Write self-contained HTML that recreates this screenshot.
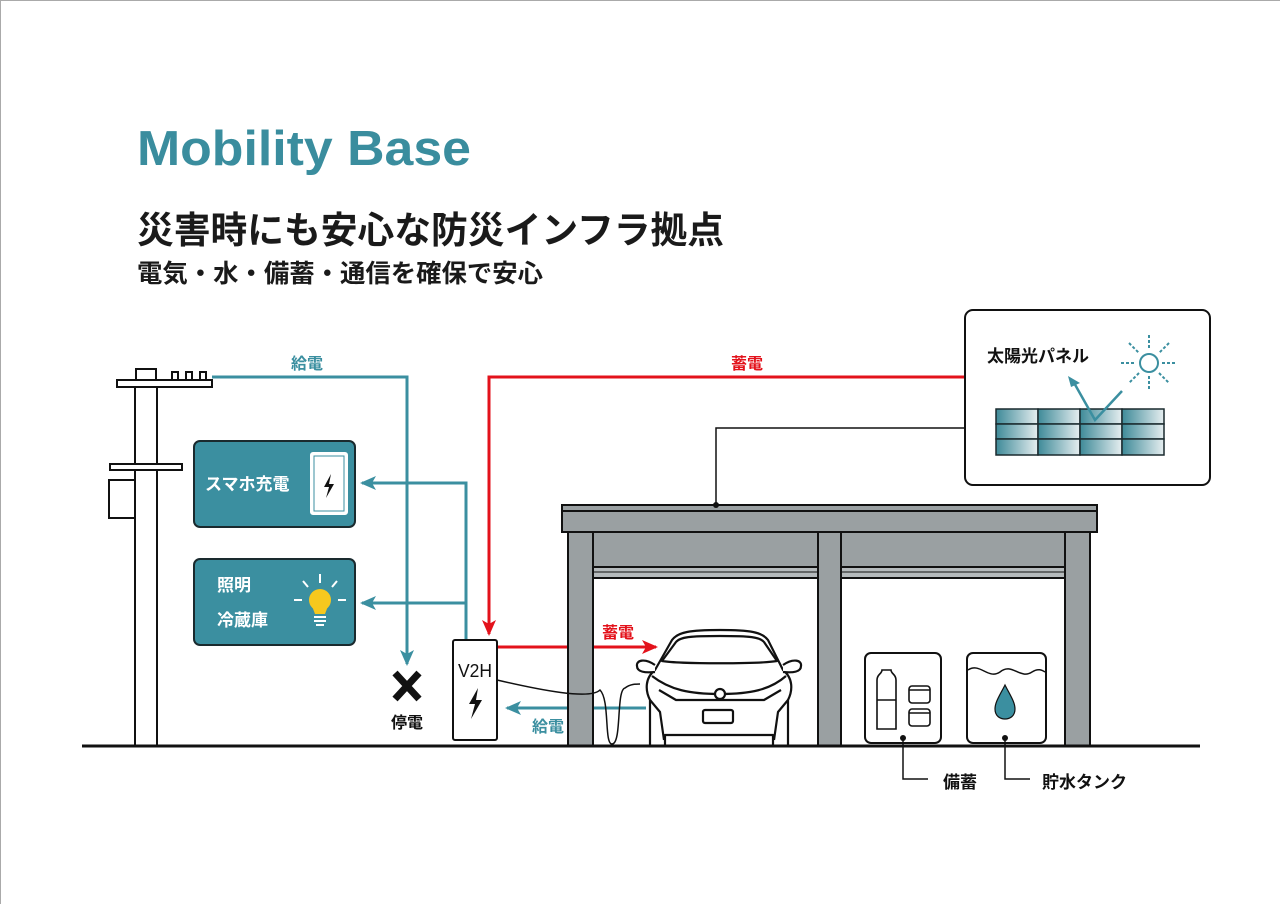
<!DOCTYPE html>
<html><head><meta charset="utf-8"><style>
html,body{margin:0;padding:0;background:#fff}
svg{display:block}
text{font-family:"Liberation Sans","Noto Sans CJK JP",sans-serif;font-weight:bold}
</style></head><body>
<svg width="1280" height="904" viewBox="0 0 1280 904" xmlns="http://www.w3.org/2000/svg">
<rect x="0.5" y="0.5" width="1290" height="910" fill="#fff" stroke="#aaa"/>
<defs>
<marker id="ar" markerWidth="16" markerHeight="14" refX="14" refY="7" orient="auto" markerUnits="userSpaceOnUse"><path d="M0,0 L16,7 L0,14 L4,7z" fill="#e3121b"/></marker>
<marker id="at2" markerWidth="16" markerHeight="14" refX="14" refY="7" orient="auto" markerUnits="userSpaceOnUse"><path d="M0,0 L16,7 L0,14 L4,7z" fill="#3b8fa0"/></marker>
<linearGradient id="pg" x1="0" x2="1"><stop offset="0" stop-color="#3e8a98"/><stop offset="1" stop-color="#e6eef0"/></linearGradient>
</defs>
<text x="137" y="165" font-size="49" fill="#3a8d9e" textLength="334" lengthAdjust="spacingAndGlyphs">Mobility Base</text>
<text x="137" y="243" font-size="37" fill="#1a1a1a" textLength="587" lengthAdjust="spacingAndGlyphs">災害時にも安心な防災インフラ拠点</text>
<text x="137" y="282" font-size="25" fill="#1a1a1a" textLength="406" lengthAdjust="spacingAndGlyphs">電気・水・備蓄・通信を確保で安心</text>

<g stroke="#111" stroke-width="2" fill="#fff">
<rect x="135" y="383" width="22" height="363"/>
<rect x="136" y="369" width="20" height="11"/>
<rect x="172" y="372" width="6" height="8"/><rect x="186" y="372" width="6" height="8"/><rect x="200" y="372" width="6" height="8"/>
<rect x="117" y="380" width="95" height="7"/>
<rect x="110" y="464" width="72" height="6"/>
<rect x="109" y="480" width="26" height="38"/>
</g>
<g fill="none" stroke="#3b8fa0" stroke-width="3">
<path d="M212,377 H407 V664" marker-end="url(#at2)"/>
<path d="M466,640 V483 H362" marker-end="url(#at2)"/>
<path d="M466,603 H362" marker-end="url(#at2)"/>
<path d="M646,708 H507" marker-end="url(#at2)"/>
</g>
<text x="307" y="369" font-size="16" fill="#3b8fa0" text-anchor="middle">給電</text>
<text x="548" y="732" font-size="16" fill="#3b8fa0" text-anchor="middle">給電</text>
<rect x="194" y="441" width="161" height="86" rx="6" fill="#3b8fa0" stroke="#1a2a2e" stroke-width="2"/>
<text x="205" y="490" font-size="17" fill="#fff">スマホ充電</text>
<rect x="311" y="453" width="36" height="61" rx="2" fill="#fff" stroke="#fff" stroke-width="2"/>
<rect x="314" y="456" width="30" height="55" fill="#fff" stroke="#3b8fa0" stroke-width="1"/>
<path d="M331,474 L324,487 L329,487 L326,498 L334,484 L329,484 Z" fill="#111"/>
<rect x="194" y="559" width="161" height="86" rx="6" fill="#3b8fa0" stroke="#1a2a2e" stroke-width="2"/>
<text x="217" y="591" font-size="17" fill="#fff">照明</text>
<text x="217" y="626" font-size="17" fill="#fff">冷蔵庫</text>
<g stroke="#fff" stroke-width="2"><line x1="320" y1="574" x2="320" y2="583"/><line x1="303" y1="581" x2="308" y2="587"/><line x1="337" y1="581" x2="332" y2="587"/><line x1="294" y1="600" x2="302" y2="600"/><line x1="338" y1="600" x2="346" y2="600"/></g>
<circle cx="320" cy="600" r="11" fill="#f6c81e"/>
<path d="M312,606 L328,606 L325,614 L315,614Z" fill="#f6c81e"/>
<g stroke="#fff" stroke-width="2"><line x1="314" y1="617" x2="326" y2="617"/><line x1="314" y1="621" x2="326" y2="621"/><line x1="316" y1="625" x2="324" y2="625"/></g>
<path d="M395,673 L419,699 M419,673 L395,699" stroke="#111" stroke-width="7"/>
<text x="407" y="728" font-size="16" fill="#111" text-anchor="middle">停電</text>
<g fill="none" stroke="#e3121b" stroke-width="3">
<path d="M965,377 H489 V634" marker-end="url(#ar)"/>
<path d="M497,647 H656" marker-end="url(#ar)"/>
</g>
<text x="747" y="369" font-size="16" fill="#e3121b" text-anchor="middle">蓄電</text>
<text x="618" y="638" font-size="16" fill="#e3121b" text-anchor="middle">蓄電</text>
<rect x="453" y="640" width="44" height="100" rx="2" fill="#fff" stroke="#111" stroke-width="2"/>
<text x="475" y="677" font-size="18" fill="#111" text-anchor="middle" style="font-weight:normal" textLength="34" lengthAdjust="spacingAndGlyphs">V2H</text>
<path d="M478,688 L469,704 L475,704 L471,719 L482,700 L476,700 Z" fill="#111"/>
<g stroke="#111" stroke-width="2" fill="#9aa0a2">
<rect x="593" y="532" width="472" height="35"/>
<rect x="593" y="567" width="472" height="11" fill="#b5babc"/>
<line x1="593" y1="572" x2="1065" y2="572" stroke-width="1"/>
<rect x="562" y="505" width="535" height="27"/>
<line x1="562" y1="511" x2="1097" y2="511"/>
<rect x="568" y="532" width="25" height="214"/>
<rect x="818" y="532" width="23" height="214"/>
<rect x="1065" y="532" width="25" height="214"/>
</g>
<path d="M965,428 H716 V505" fill="none" stroke="#111" stroke-width="1.5"/>
<circle cx="716" cy="505" r="3" fill="#111"/>
<path d="M497,680 C540,690 590,700 600,690 C610,700 604,744 612,744 C622,744 616,690 625,688 C630,684 636,684 640,684" fill="none" stroke="#111" stroke-width="1.5"/>
<g fill="#fff" stroke="#111" stroke-width="2.2" stroke-linejoin="round">
<path d="M650,746 V700 C645,690 645,678 655,670 L672,640 C678,632 690,630 720,630 C750,630 762,632 768,640 L783,670 C793,678 793,690 788,700 V746 H773 V735 H665 V746Z"/>
<path d="M662,661 L676,642 C680,637 690,636 720,636 C750,636 760,637 764,642 L777,661 C760,664 680,664 662,661Z"/>
<path d="M655,665 C645,658 636,660 637,666 C637,672 645,673 655,672"/>
<path d="M783,665 C793,658 802,660 801,666 C801,672 793,673 783,672"/>
<path d="M652,676 C670,690 690,694 720,694 C750,694 770,690 786,676" fill="none"/>
<path d="M659,690 L676,700 L764,700 L781,690" fill="none"/>
<circle cx="720" cy="694" r="5"/>
<rect x="703" y="710" width="30" height="13" rx="2"/>
<path d="M650,700 L660,712 L664,740 M788,700 L778,712 L774,740" fill="none"/>
</g>
<rect x="865" y="653" width="76" height="90" rx="6" fill="#fff" stroke="#111" stroke-width="2"/>
<g fill="#fff" stroke="#111" stroke-width="1.6">
<path d="M877,729 V680 C877,674 882,674 882,670 H891 C891,674 896,674 896,680 V729Z"/>
<line x1="877" y1="700" x2="896" y2="700"/>
<rect x="909" y="686" width="21" height="17" rx="3"/><line x1="909" y1="690" x2="930" y2="690"/>
<rect x="909" y="709" width="21" height="17" rx="3"/><line x1="909" y1="713" x2="930" y2="713"/>
</g>
<rect x="967" y="653" width="79" height="90" rx="6" fill="#fff" stroke="#111" stroke-width="2"/>
<path d="M968,670 C980,662 988,680 1000,672 C1012,662 1020,680 1032,672 C1038,668 1042,670 1045,672" fill="none" stroke="#111" stroke-width="1.5"/>
<path d="M1005,685 C1000,695 995,702 995,709 C995,716 1000,719 1005,719 C1010,719 1015,716 1015,709 C1015,702 1010,695 1005,685Z" fill="#3b8fa0" stroke="#111" stroke-width="1.2"/>
<line x1="82" y1="746" x2="1200" y2="746" stroke="#111" stroke-width="3"/>
<circle cx="903" cy="738" r="3" fill="#111"/><circle cx="1005" cy="738" r="3" fill="#111"/>
<path d="M903,738 V779 H928 M1005,738 V779 H1030" fill="none" stroke="#111" stroke-width="1.5"/>
<text x="943" y="788" font-size="17" fill="#111">備蓄</text>
<text x="1042" y="788" font-size="17" fill="#111">貯水タンク</text>
<rect x="965" y="310" width="245" height="175" rx="8" fill="#fff" stroke="#111" stroke-width="2"/>
<text x="987" y="362" font-size="17" fill="#111">太陽光パネル</text>
<circle cx="1149" cy="363" r="9" fill="none" stroke="#3b8fa0" stroke-width="2"/>
<g stroke="#3b8fa0" stroke-width="2" stroke-dasharray="3,2">
<line x1="1149" y1="335" x2="1149" y2="350"/><line x1="1149" y1="376" x2="1149" y2="391"/>
<line x1="1121" y1="363" x2="1136" y2="363"/><line x1="1162" y1="363" x2="1177" y2="363"/>
<line x1="1129" y1="343" x2="1139" y2="353"/><line x1="1159" y1="373" x2="1169" y2="383"/>
<line x1="1169" y1="343" x2="1159" y2="353"/><line x1="1139" y1="373" x2="1129" y2="383"/>
</g>
<g stroke="#1a2a2e" stroke-width="1.5" fill="url(#pg)">
<rect x="996" y="409" width="42" height="15"/><rect x="1038" y="409" width="42" height="15"/><rect x="1080" y="409" width="42" height="15"/><rect x="1122" y="409" width="42" height="15"/>
<rect x="996" y="424" width="42" height="15"/><rect x="1038" y="424" width="42" height="15"/><rect x="1080" y="424" width="42" height="15"/><rect x="1122" y="424" width="42" height="15"/>
<rect x="996" y="439" width="42" height="16"/><rect x="1038" y="439" width="42" height="16"/><rect x="1080" y="439" width="42" height="16"/><rect x="1122" y="439" width="42" height="16"/>
</g>
<path d="M1122,391 L1095,420 L1073,381" fill="none" stroke="#3b8fa0" stroke-width="2.5"/>
<path d="M1068,376 L1080,383 L1071,387Z" fill="#3b8fa0"/>
</svg>
</body></html>
